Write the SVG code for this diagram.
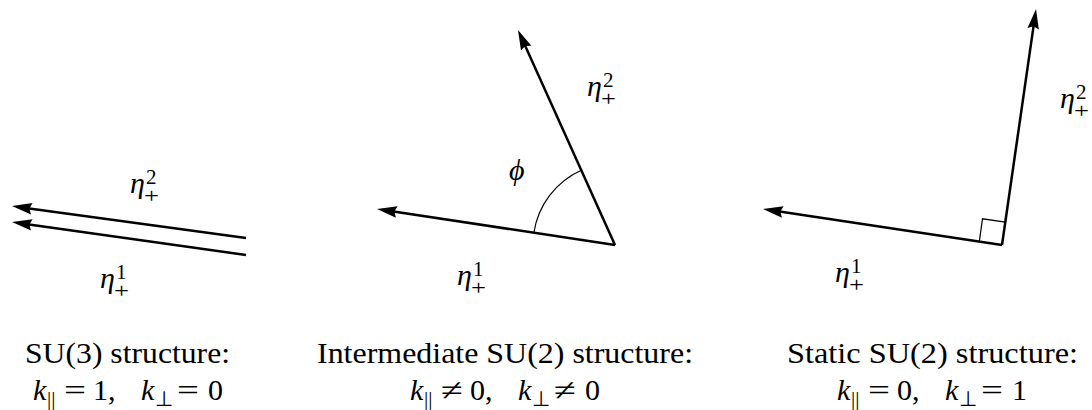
<svg xmlns="http://www.w3.org/2000/svg" width="1092" height="410" viewBox="0 0 1092 410">
<style>
.arr{stroke:#000;stroke-width:2.5;fill:none;marker-end:url(#ah)}
.thin{stroke:#000;stroke-width:1.2;fill:none}
.it{font-style:italic;font-size:30px;fill:#000}
.rm{font-size:30px;fill:#000}
.sc{font-size:21px;fill:#000}
</style>
<defs>
<marker id="ah" markerWidth="20" markerHeight="12" viewBox="0 0 20 12" refX="10" refY="6" orient="auto" markerUnits="userSpaceOnUse">
<path d="M0,0.3 L20,6 L0,11.7 L2.5,6 Z" fill="#000"/>
</marker>
</defs>
<g id="connectors">
<path class="arr" d="M246,238 L21.9,207.4"/>
<path class="arr" d="M246,255 L21.9,223.4"/>
<path class="arr" d="M615,245 L386.9,210.5"/>
<path class="arr" d="M615,245 L522.1,39.1"/>
<path class="arr" d="M1002,245 L772.9,210.5"/>
<path class="arr" d="M1002,245 L1034.6,18.9"/>
<path class="thin" d="M533.9,232.7 A82,82 0 0 1 581.3,170.3"/>
<path class="thin" d="M979.3,241.6 L982.5,218.8 L1005.3,222.2"/>
</g>
<g id="labels" font-family="Liberation Serif, serif">
<g id="label-p1-eta2">
<text class="it" x="130" y="193">η</text><text class="sc" x="146" y="184">2</text><text class="sc" x="144" y="203" textLength="15" lengthAdjust="spacingAndGlyphs">+</text>
</g>
<g id="label-p1-eta1">
<text class="it" x="100" y="288">η</text><text class="sc" x="116" y="279">1</text><text class="sc" x="114" y="298" textLength="15" lengthAdjust="spacingAndGlyphs">+</text>
</g>
<g id="label-p2-eta2">
<text class="it" x="587" y="96">η</text><text class="sc" x="603" y="87">2</text><text class="sc" x="601" y="106" textLength="15" lengthAdjust="spacingAndGlyphs">+</text>
</g>
<g id="label-p2-eta1">
<text class="it" x="457" y="285">η</text><text class="sc" x="473" y="276">1</text><text class="sc" x="471" y="295" textLength="15" lengthAdjust="spacingAndGlyphs">+</text>
</g>
<g id="label-p2-phi">
<text class="it" x="509" y="180">ϕ</text>
</g>
<g id="label-p3-eta2">
<text class="it" x="1060" y="108">η</text><text class="sc" x="1076" y="99">2</text><text class="sc" x="1074" y="118" textLength="15" lengthAdjust="spacingAndGlyphs">+</text>
</g>
<g id="label-p3-eta1">
<text class="it" x="835" y="282">η</text><text class="sc" x="851" y="273">1</text><text class="sc" x="849" y="292" textLength="15" lengthAdjust="spacingAndGlyphs">+</text>
</g>
</g>
<g id="captions" font-family="Liberation Serif, serif">
<g id="caption-1">
<text class="rm" x="25" y="363" textLength="205" lengthAdjust="spacingAndGlyphs">SU(3) structure:</text>
<g transform="translate(33,0)">
<text class="it" x="0" y="400">k</text><text class="sc" x="14" y="406">||</text>
<text class="rm" x="31" y="400" textLength="22" lengthAdjust="spacingAndGlyphs">=</text>
<text class="rm" x="60" y="400">1,</text>
<text class="it" x="108" y="400">k</text><text class="sc" x="122" y="406">⊥</text>
<text class="rm" x="144" y="400" textLength="22" lengthAdjust="spacingAndGlyphs">=</text>
<text class="rm" x="175" y="400">0</text>
</g>
</g>
<g id="caption-2">
<text class="rm" x="317" y="363" textLength="376" lengthAdjust="spacingAndGlyphs">Intermediate SU(2) structure:</text>
<g transform="translate(410,0)">
<text class="it" x="0" y="400">k</text><text class="sc" x="14" y="406">||</text>
<text class="rm" x="31" y="400" textLength="22" lengthAdjust="spacingAndGlyphs">≠</text>
<text class="rm" x="60" y="400">0,</text>
<text class="it" x="108" y="400">k</text><text class="sc" x="122" y="406">⊥</text>
<text class="rm" x="144" y="400" textLength="22" lengthAdjust="spacingAndGlyphs">≠</text>
<text class="rm" x="175" y="400">0</text>
</g>
</g>
<g id="caption-3">
<text class="rm" x="787" y="363" textLength="291" lengthAdjust="spacingAndGlyphs">Static SU(2) structure:</text>
<g transform="translate(837,0)">
<text class="it" x="0" y="400">k</text><text class="sc" x="14" y="406">||</text>
<text class="rm" x="31" y="400" textLength="22" lengthAdjust="spacingAndGlyphs">=</text>
<text class="rm" x="60" y="400">0,</text>
<text class="it" x="108" y="400">k</text><text class="sc" x="122" y="406">⊥</text>
<text class="rm" x="144" y="400" textLength="22" lengthAdjust="spacingAndGlyphs">=</text>
<text class="rm" x="175" y="400">1</text>
</g>
</g>
</g>
</svg>
